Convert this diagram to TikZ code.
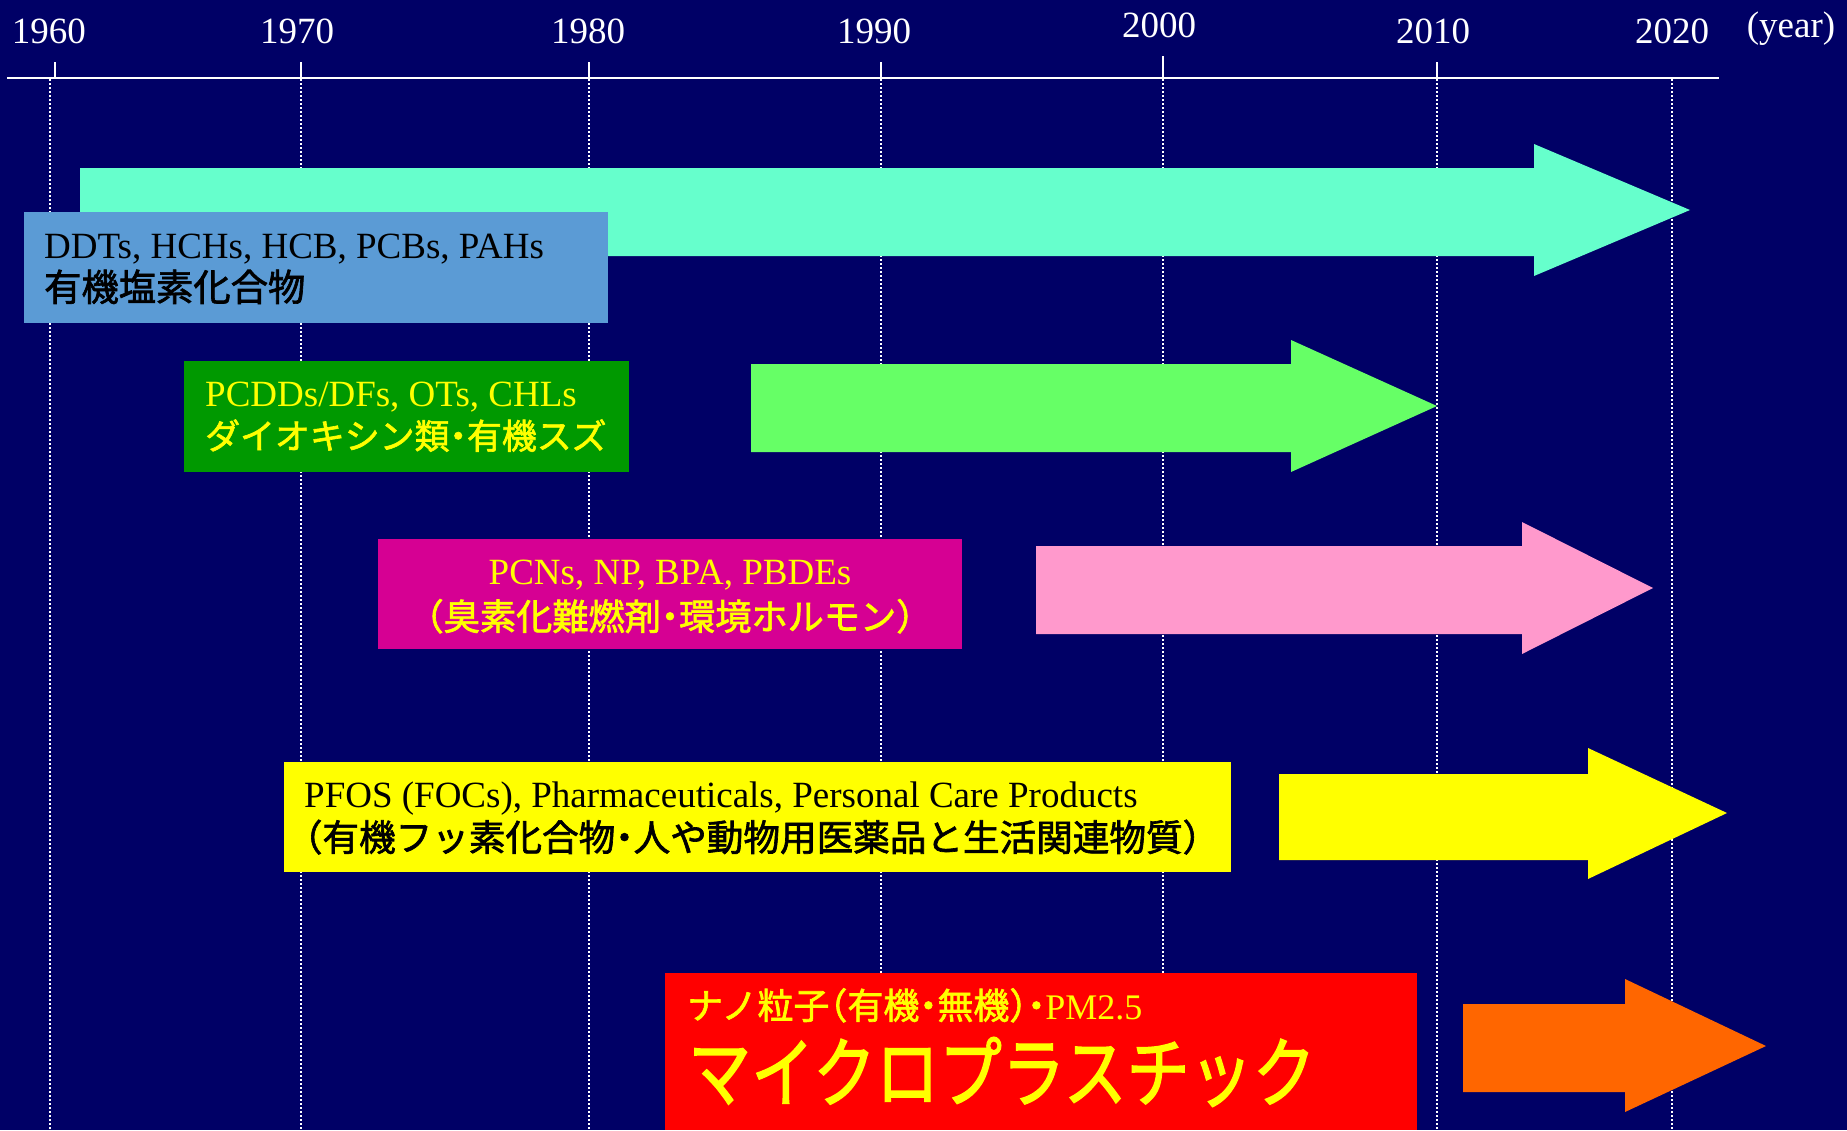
\documentclass[tikz,border=0pt]{standalone}
\usepackage{fontspec}
\setmainfont{Liberation Serif}
\newfontfamily\jp[RawFeature=+halt, FakeBold=1.8]{Noto Sans CJK JP}
\definecolor{bgnavy}{HTML}{000066}
\definecolor{aqua}{HTML}{66FFCC}
\definecolor{lgreen}{HTML}{66FF66}
\definecolor{pinkc}{HTML}{FF99CC}
\definecolor{yel}{HTML}{FFFF00}
\definecolor{orng}{HTML}{FF6600}
\definecolor{bluebox}{HTML}{5B9BD5}
\definecolor{greenbox}{HTML}{009900}
\definecolor{magbox}{HTML}{D60093}
\definecolor{redbox}{HTML}{FF0000}
\tikzset{
  yearlbl/.style={inner sep=0pt, anchor=base, text=white, font=\fontsize{37}{44}\selectfont},
  grid/.style={white, line width=1.5pt, dash pattern=on 2pt off 2pt},
  tick/.style={white, line width=1.8pt},
  txt/.style={inner sep=0pt, anchor=base west, font=\fontsize{37}{44}\selectfont},
  jptxt/.style={inner sep=0pt, anchor=base west, font=\jp\fontsize{#1}{#1}\selectfont},
}
\begin{document}
\begin{tikzpicture}[x=1pt,y=-1pt]
\useasboundingbox (0,0) rectangle (1847,1130);
\fill[bgnavy] (0,0) rectangle (1847,1130);
% dotted grid lines
\foreach \gx in {50,301,589,881,1163,1437,1672}{
  \draw[grid] (\gx,79) -- (\gx,1130);
}
% axis
\draw[white, line width=2.5pt] (7,78) -- (1719,78);
\foreach \gx in {55,301,589,881,1437}{
  \draw[tick] (\gx,62) -- (\gx,78);
}
\draw[tick] (1163,56) -- (1163,78);
% year labels
\node[yearlbl] (y1960) at (49,43) {1960};
\node[yearlbl] (y1970) at (297,43) {1970};
\node[yearlbl] (y1980) at (588,43) {1980};
\node[yearlbl] (y1990) at (874,43) {1990};
\node[yearlbl] (y2000) at (1159,37) {2000};
\node[yearlbl] (y2010) at (1433,43) {2010};
\node[yearlbl] (y2020) at (1672,43) {2020};
\node[yearlbl] (yr) at (1791,37) {(year)};
% arrows
\fill[aqua] (80,168) -- (1534,168) -- (1534,144) -- (1690,210) -- (1534,276) -- (1534,256) -- (80,256) -- cycle;
\fill[lgreen] (751,364) -- (1291,364) -- (1291,340) -- (1437,406) -- (1291,472) -- (1291,452) -- (751,452) -- cycle;
\fill[pinkc] (1036,546) -- (1522,546) -- (1522,522) -- (1653,588) -- (1522,654) -- (1522,634) -- (1036,634) -- cycle;
\fill[yel] (1279,774) -- (1588,774) -- (1588,748) -- (1727,813) -- (1588,879) -- (1588,860) -- (1279,860) -- cycle;
\fill[orng] (1463,1004) -- (1625,1004) -- (1625,979) -- (1766,1046) -- (1625,1112) -- (1625,1092) -- (1463,1092) -- cycle;
% boxes
\fill[bluebox] (24,212) rectangle (608,323);
\fill[greenbox] (184,361) rectangle (629,472);
\fill[magbox] (378,539) rectangle (962,649);
\fill[yel] (284,762) rectangle (1231,872);
\fill[redbox] (665,973) rectangle (1417,1130);
% texts
\node[txt, text=black] (t1a) at (44,258) {DDTs, HCHs, HCB, PCBs, PAHs};
\node[jptxt=37.3, text=black] (t1b) at (44,301) {有機塩素化合物};
\node[txt, text=yel] (t2a) at (205,406) {PCDDs/DFs, OTs, CHLs};
\node[jptxt=34.9, text=yel] (t2b) at (205,449) {ダイオキシン類・有機スズ};
\node[txt, text=yel, anchor=base] (t3a) at (670,584) {PCNs, NP, BPA, PBDEs};
\node[jptxt=36.2, text=yel, anchor=base] (t3b) at (670,630) {（臭素化難燃剤・環境ホルモン）};
\node[txt, text=black] (t4a) at (304,807) {PFOS (FOCs), Pharmaceuticals, Personal Care Products};
\node[jptxt=36.6, text=black] (t4b) at (304,851) {（有機フッ素化合物・人や動物用医薬品と生活関連物質）};
\node[txt, text=yel, font=\fontsize{36}{40}\selectfont] (t5a) at (687,1019) {{\jp ナノ粒子（有機・無機）・}PM2.5};
\node[jptxt=63, text=yel] (t5b) at (688,1101) {\scalebox{1}[1.22]{マイクロプラスチック}};
\end{tikzpicture}
\end{document}
